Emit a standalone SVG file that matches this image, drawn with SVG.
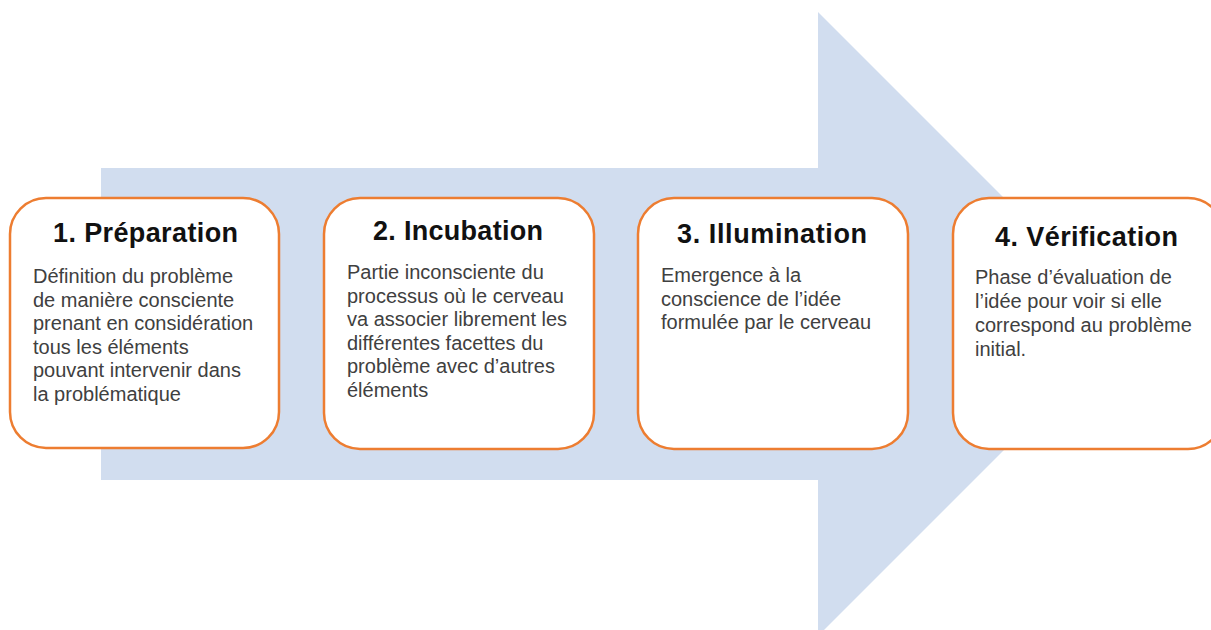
<svg xmlns="http://www.w3.org/2000/svg" width="1211" height="630" viewBox="0 0 1211 630">
<style>
.box{fill:#ffffff;stroke:#ED7D31;stroke-width:2.5}
.title{font-family:"Liberation Sans",Arial,sans-serif;font-weight:bold;font-size:27px;fill:#111111;text-anchor:middle}
.body{font-family:"Liberation Sans",Arial,sans-serif;font-size:20px;fill:#404040}
</style>
<rect width="1211" height="630" fill="#ffffff"/>
<g id="arrow">
<polygon points="101,168 818,168 818,12 1130,324 818,636 818,480 101,480" fill="#D1DDEF"/>
</g>
<g id="connectors"></g>
<g id="node1">
<rect class="box" x="10" y="198" width="269" height="250" rx="36"/>
<text class="title" x="145.5" y="242" textLength="185" lengthAdjust="spacing">1. Préparation</text>
<text class="body" x="33" y="283">Définition du problème</text>
<text class="body" x="33" y="306.5">de manière consciente</text>
<text class="body" x="33" y="330">prenant en considération</text>
<text class="body" x="33" y="353.5">tous les éléments</text>
<text class="body" x="33" y="377">pouvant intervenir dans</text>
<text class="body" x="33" y="400.5">la problématique</text>
</g>
<g id="node2">
<rect class="box" x="324" y="198" width="270" height="251" rx="36"/>
<text class="title" x="458" y="240" textLength="170" lengthAdjust="spacing">2. Incubation</text>
<text class="body" x="347" y="279">Partie inconsciente du</text>
<text class="body" x="347" y="302.5">processus où le cerveau</text>
<text class="body" x="347" y="326">va associer librement les</text>
<text class="body" x="347" y="349.5">différentes facettes du</text>
<text class="body" x="347" y="373">problème avec d’autres</text>
<text class="body" x="347" y="396.5">éléments</text>
</g>
<g id="node3">
<rect class="box" x="638" y="198" width="270" height="251" rx="36"/>
<text class="title" x="772" y="243" textLength="190" lengthAdjust="spacing">3. Illumination</text>
<text class="body" x="661" y="282">Emergence à la</text>
<text class="body" x="661" y="305.5">conscience de l’idée</text>
<text class="body" x="661" y="329">formulée par le cerveau</text>
</g>
<g id="node4">
<rect class="box" x="953" y="198" width="271" height="251" rx="36"/>
<text class="title" x="1086.5" y="246" textLength="183" lengthAdjust="spacing">4. Vérification</text>
<text class="body" x="975" y="284">Phase d’évaluation de</text>
<text class="body" x="975" y="308">l’idée pour voir si elle</text>
<text class="body" x="975" y="332">correspond au problème</text>
<text class="body" x="975" y="356">initial.</text>
</g>
</svg>
